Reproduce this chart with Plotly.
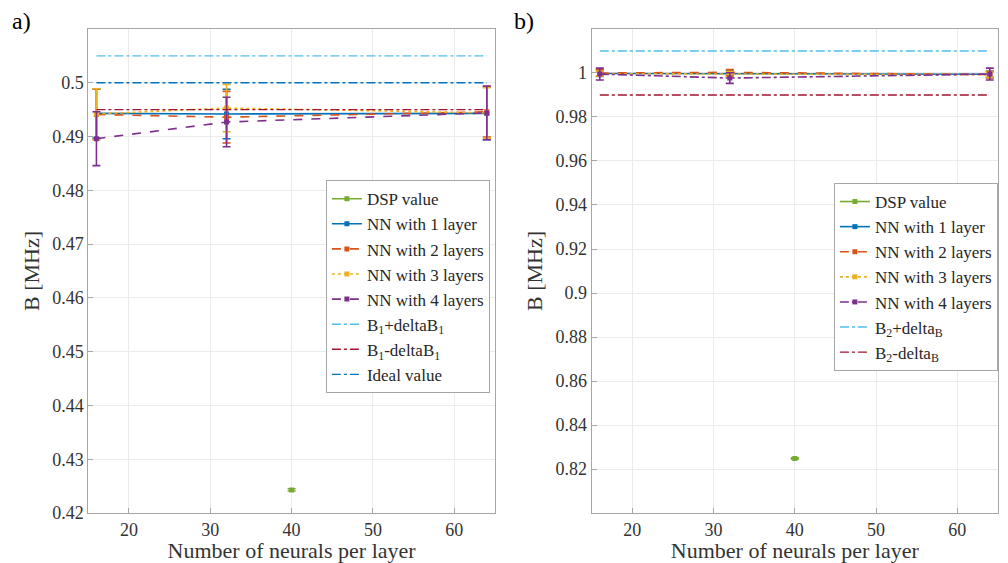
import plotly.graph_objects as go

# ---- data -------------------------------------------------------------
neurons = [16, 32, 64]
dsp_x = [40]

# panel a) : B1
a_dsp = [0.4243]
a_dsp_err = [0.0002]
a_nn1 = [0.4943, 0.4942, 0.4943]
a_nn1_err = [0.0046, 0.0046, 0.0049]
a_nn2 = [0.4941, 0.4936, 0.4946]
a_nn2_err = [0.0047, 0.0048, 0.0047]
a_nn3 = [0.4942, 0.4953, 0.4944]
a_nn3_err = [0.0047, 0.0044, 0.0047]
a_nn4 = [0.4896, 0.4927, 0.4944]
a_nn4_err = [0.0050, 0.0046, 0.0050]
a_upper = [0.505, 0.505]
a_lower = [0.495, 0.495]
a_ideal = [0.5, 0.5]

# panel b) : B2
b_dsp = [0.8248]
b_dsp_err = [0.0003]
b_nn1 = [0.9998, 0.9997, 0.9994]
b_nn1_err = [0.0014, 0.0013, 0.0014]
b_nn2 = [1.0000, 1.0003, 0.9993]
b_nn2_err = [0.0015, 0.0013, 0.0015]
b_nn3 = [0.9997, 0.9995, 0.9992]
b_nn3_err = [0.0012, 0.0012, 0.0012]
b_nn4 = [0.9995, 0.9977, 0.9995]
b_nn4_err = [0.0027, 0.0024, 0.0027]
b_upper = [1.01, 1.01]
b_lower = [0.99, 0.99]

line_x = [16, 64]

a_yticks = [0.42, 0.43, 0.44, 0.45, 0.46, 0.47, 0.48, 0.49, 0.50]
a_ylabels = ["0.42", "0.43", "0.44", "0.45", "0.46", "0.47", "0.48", "0.49", "0.5"]
b_yticks = [0.82, 0.84, 0.86, 0.88, 0.90, 0.92, 0.94, 0.96, 0.98, 1.00]
b_ylabels = ["0.82", "0.84", "0.86", "0.88", "0.9", "0.92", "0.94", "0.96", "0.98", "1"]
xticks = [20, 30, 40, 50, 60]

# ---- style ------------------------------------------------------------
FONT = "Liberation Serif"
C_GREEN = "#77AC30"
C_BLUE = "#0072BD"
C_ORANGE = "#D95319"
C_YELLOW = "#EDB120"
C_PURPLE = "#7E2F8E"
C_CYAN = "#4DBEEE"
C_RED = "#A2142F"

fig = go.Figure()


def err_series(x, y, err, name, color, dash, xa, ya, legend):
    fig.add_trace(go.Scatter(
        x=x, y=y, name=name, mode="lines+markers",
        line=dict(color=color, width=1.6, dash=dash),
        marker=dict(color=color, size=5, symbol="square"),
        error_y=dict(type="data", array=err, visible=True, color=color,
                     thickness=1.6, width=4),
        xaxis=xa, yaxis=ya, legend=legend,
    ))


def ref_line(y, name, color, xa, ya, legend):
    fig.add_trace(go.Scatter(
        x=line_x, y=y, name=name, mode="lines",
        line=dict(color=color, width=1.4, dash="dashdot"),
        xaxis=xa, yaxis=ya, legend=legend,
    ))


# panel a)
err_series(dsp_x, a_dsp, a_dsp_err, "DSP value", C_GREEN, "solid", "x", "y", "legend")
err_series(neurons, a_nn1, a_nn1_err, "NN with 1 layer", C_BLUE, "solid", "x", "y", "legend")
err_series(neurons, a_nn2, a_nn2_err, "NN with 2 layers", C_ORANGE, "dash", "x", "y", "legend")
err_series(neurons, a_nn3, a_nn3_err, "NN with 3 layers", C_YELLOW, "dot", "x", "y", "legend")
err_series(neurons, a_nn4, a_nn4_err, "NN with 4 layers", C_PURPLE, "dash", "x", "y", "legend")
ref_line(a_upper, "B<sub>1</sub>+deltaB<sub>1</sub>", C_CYAN, "x", "y", "legend")
ref_line(a_lower, "B<sub>1</sub>-deltaB<sub>1</sub>", C_RED, "x", "y", "legend")
ref_line(a_ideal, "Ideal value", C_BLUE, "x", "y", "legend")

# panel b)
err_series(dsp_x, b_dsp, b_dsp_err, "DSP value", C_GREEN, "solid", "x2", "y2", "legend2")
err_series(neurons, b_nn1, b_nn1_err, "NN with 1 layer", C_BLUE, "solid", "x2", "y2", "legend2")
err_series(neurons, b_nn2, b_nn2_err, "NN with 2 layers", C_ORANGE, "dash", "x2", "y2", "legend2")
err_series(neurons, b_nn3, b_nn3_err, "NN with 3 layers", C_YELLOW, "dot", "x2", "y2", "legend2")
err_series(neurons, b_nn4, b_nn4_err, "NN with 4 layers", C_PURPLE, "dashdot", "x2", "y2", "legend2")
ref_line(b_upper, "B<sub>2</sub>+delta<sub>B</sub>", C_CYAN, "x2", "y2", "legend2")
ref_line(b_lower, "B<sub>2</sub>-delta<sub>B</sub>", C_RED, "x2", "y2", "legend2")

axis_common = dict(
    showline=True, linecolor="#a6a6a6", linewidth=1, mirror=True,
    showgrid=True, gridcolor="#ebebeb", gridwidth=1,
    ticks="inside", ticklen=5, tickcolor="#a6a6a6",
    zeroline=False, automargin=False,
    tickfont=dict(family=FONT, size=18, color="#333333"),
)
title_font = dict(family=FONT, size=22, color="#333333")

legend_common = dict(
    xanchor="right", yanchor="top",
    bgcolor="white", bordercolor="#a6a6a6", borderwidth=1,
    font=dict(family=FONT, size=17, color="#262626"),
    itemwidth=30, tracegroupgap=0,
)

fig.update_layout(
    width=1008, height=563,
    margin=dict(l=0, r=0, t=0, b=0),
    paper_bgcolor="white", plot_bgcolor="white",
    font=dict(family=FONT, color="#262626"),
    xaxis=dict(domain=[0.0876, 0.491], range=[15, 65], tickvals=xticks,
               title=dict(text="Number of neurals per layer", font=title_font, standoff=0),
               anchor="y", **axis_common),
    yaxis=dict(domain=[0.0888, 0.9485], range=[0.42, 0.51], tickvals=a_yticks,
               ticktext=a_ylabels,
               title=dict(text="B [MHz]", font=title_font, standoff=6),
               anchor="x", **axis_common),
    xaxis2=dict(domain=[0.587, 0.990], range=[15, 65], tickvals=xticks,
                title=dict(text="Number of neurals per layer", font=title_font, standoff=0),
                anchor="y2", **axis_common),
    yaxis2=dict(domain=[0.0888, 0.9485], range=[0.80, 1.02], tickvals=b_yticks,
                ticktext=b_ylabels,
                title=dict(text="B [MHz]", font=title_font, standoff=6),
                anchor="x2", **axis_common),
    legend=dict(x=0.486, y=0.68, **legend_common),
    legend2=dict(x=0.990, y=0.675, **legend_common),
    showlegend=True,
    annotations=[
        dict(text="a)", x=0.010, y=0.99, xref="paper", yref="paper",
             xanchor="left", yanchor="top", showarrow=False,
             font=dict(family=FONT, size=24, color="#000000")),
        dict(text="b)", x=0.508, y=0.99, xref="paper", yref="paper",
             xanchor="left", yanchor="top", showarrow=False,
             font=dict(family=FONT, size=24, color="#000000")),
    ],
)

fig.write_html("out.html")
